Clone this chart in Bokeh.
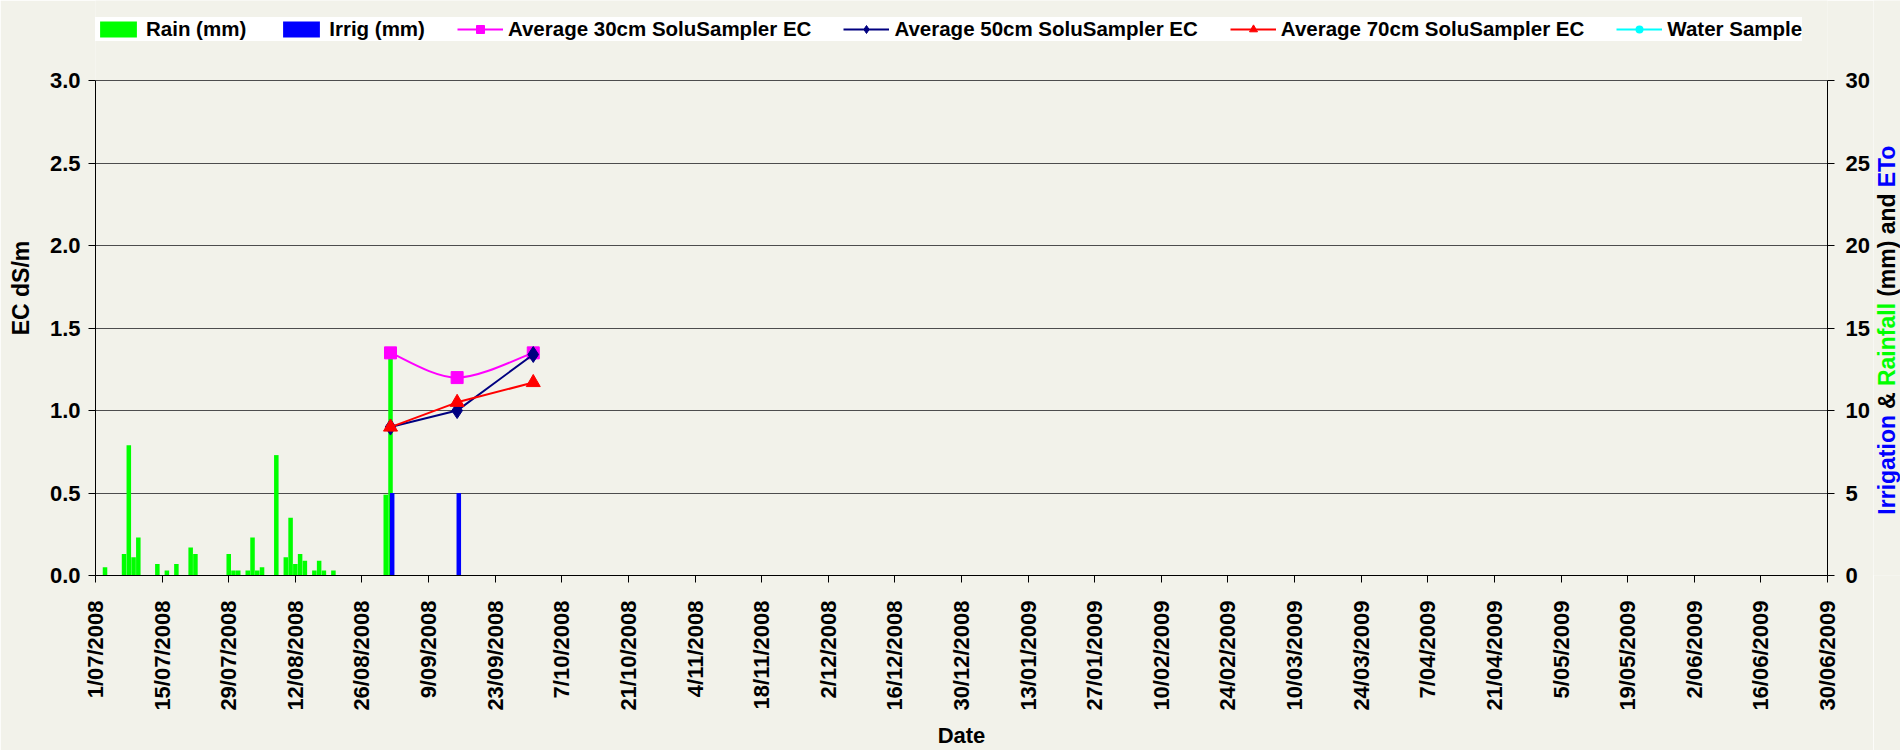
import math
import pandas as pd
from bokeh.plotting import figure
from bokeh.layouts import row
from bokeh.models import (ColumnDataSource, Range1d, LinearAxis, FixedTicker,
                          NumeralTickFormatter, Legend, LegendItem, CDSView, IndexFilter)
from bokeh.core.properties import value
from bokeh.transform import dodge
from bokeh.embed import file_html
from bokeh.resources import INLINE

# ---------------- data ----------------
start_date = "2008-07-01"
end_date = "2009-06-30"

rain_dates = ["2008-07-03", "2008-07-07", "2008-07-08", "2008-07-09", "2008-07-10",
              "2008-07-14", "2008-07-16", "2008-07-18", "2008-07-21", "2008-07-22",
              "2008-07-29", "2008-07-30", "2008-07-31", "2008-08-02", "2008-08-03",
              "2008-08-04", "2008-08-05", "2008-08-08", "2008-08-10", "2008-08-11",
              "2008-08-12", "2008-08-13", "2008-08-14", "2008-08-16", "2008-08-17",
              "2008-08-18", "2008-08-20", "2008-08-31", "2008-09-01"]
rain_mm = [0.5, 1.3, 7.9, 1.1, 2.3,
           0.7, 0.3, 0.7, 1.7, 1.3,
           1.3, 0.3, 0.3, 0.3, 2.3,
           0.3, 0.5, 7.3, 1.1, 3.5,
           0.7, 1.3, 0.9, 0.3, 0.9,
           0.3, 0.3, 4.9, 13.8]

irrig_dates = ["2008-09-01", "2008-09-15"]
irrig_mm = [5.0, 5.0]

ec_dates = ["2008-09-01", "2008-09-15", "2008-10-01"]
ec_30cm = [1.35, 1.20, 1.35]
ec_50cm = [0.90, 1.00, 1.34]
ec_70cm = [0.90, 1.05, 1.17]

water_dates = []
water_ec = []

tick_dates = pd.date_range(start_date, end_date, freq="14D")
tick_labels = [f"{d.day}/{d.month:02d}/{d.year}" for d in tick_dates]

ec_ticks = [0.0, 0.5, 1.0, 1.5, 2.0, 2.5, 3.0]
mm_ticks = [0, 5, 10, 15, 20, 25, 30]
ec_max, mm_max = 3.0, 30.0

series_names = ["Rain (mm)", "Irrig (mm)", "Average 30cm SoluSampler EC",
                "Average 50cm SoluSampler EC", "Average 70cm SoluSampler EC",
                "Water Sample"]

right_title_parts = ["Irrigation", "&", "Rainfall", "(mm) and", "ETo"]
right_title_colors = ["#0000ff", "black", "#00ff00", "black", "#0000ff"]

# ---------------- layout / styling ----------------
BG = "#f2f2ea"
FONT = "Liberation Sans"
DAY_MS = 86400000.0

W_MAIN, W_SIDE, H = 1873, 27, 750
B_LEFT, B_RIGHT, B_BOTTOM = 95, 46, 173
FRAME_H = H - B_BOTTOM            # frame spans from canvas top to the x axis
PLOT_TOP = 80.5                   # pixel row of the 3.0 / 30 gridline
head = FRAME_H / (FRAME_H - PLOT_TOP)   # range stretch so 3.0 sits at PLOT_TOP

p = figure(width=W_MAIN, height=H, x_axis_type="datetime", output_backend="svg",
           toolbar_location=None,
           x_range=Range1d(pd.Timestamp(start_date), pd.Timestamp(end_date)),
           y_range=Range1d(0, ec_max * head),
           min_border_left=B_LEFT, min_border_right=B_RIGHT, min_border_top=0,
           min_border_bottom=B_BOTTOM)
p.extra_y_ranges = {"mm": Range1d(0, mm_max * head)}
p.background_fill_color = BG
p.border_fill_color = BG
p.outline_line_color = None

p.xgrid.grid_line_color = None
p.ygrid.grid_line_color = "#4d4d4d"
p.ygrid.grid_line_width = 1
p.ygrid.ticker = FixedTicker(ticks=ec_ticks)

rain_src = ColumnDataSource(dict(x=pd.to_datetime(rain_dates), y=rain_mm))
irrig_src = ColumnDataSource(dict(x=pd.to_datetime(irrig_dates), y=irrig_mm))
ec_x = pd.to_datetime(ec_dates)
s30 = ColumnDataSource(dict(x=ec_x, y=ec_30cm))
s50 = ColumnDataSource(dict(x=ec_x, y=ec_50cm))
s70 = ColumnDataSource(dict(x=ec_x, y=ec_70cm))
swater = ColumnDataSource(dict(x=pd.to_datetime(water_dates), y=water_ec))

r_rain = p.vbar(x="x", top="y", width=0.95 * DAY_MS, source=rain_src,
                y_range_name="mm", fill_color="#00ff00", line_color=None)
r_irrig = p.vbar(x=dodge("x", 0.35 * DAY_MS, range=p.x_range), top="y",
                 width=0.95 * DAY_MS, source=irrig_src,
                 y_range_name="mm", fill_color="#0000ff", line_color=None)

# smoothed 30cm line (Excel-style smoothing: Bezier control points from the data)
xs = [t.value / 1e6 for t in ec_x]
ys = list(ec_30cm)
n = len(xs)
bz = dict(x0=[], y0=[], x1=[], y1=[], cx0=[], cy0=[], cx1=[], cy1=[])
for i in range(n - 1):
    im1 = max(i - 1, 0)
    ip2 = min(i + 2, n - 1)
    bz["x0"].append(xs[i]); bz["y0"].append(ys[i])
    bz["x1"].append(xs[i + 1]); bz["y1"].append(ys[i + 1])
    bz["cx0"].append(xs[i] + (xs[i + 1] - xs[im1]) / 6.0)
    bz["cy0"].append(ys[i] + (ys[i + 1] - ys[im1]) / 6.0)
    bz["cx1"].append(xs[i + 1] - (xs[ip2] - xs[i]) / 6.0)
    bz["cy1"].append(ys[i + 1] - (ys[ip2] - ys[i]) / 6.0)
p.bezier(x0="x0", y0="y0", x1="x1", y1="y1", cx0="cx0", cy0="cy0",
         cx1="cx1", cy1="cy1", source=ColumnDataSource(bz),
         line_color="#ff00ff", line_width=2)
# one-point views: a line through a single point draws nothing in the plot,
# but gives the legend a line sample
one_pt = CDSView(filter=IndexFilter([0]))
l30 = p.line("x", "y", source=s30, view=one_pt, line_color="#ff00ff", line_width=2)
m30 = p.scatter("x", "y", source=s30, marker="square", size=12,
                fill_color="#ff00ff", line_color="#ff00ff")

l50 = p.line("x", "y", source=s50, line_color="#000080", line_width=2)
m50 = p.scatter("x", "y", source=s50, marker="diamond", size=16,
                fill_color="#000080", line_color="#000080")

l70 = p.line("x", "y", source=s70, line_color="#ff0000", line_width=2)
m70 = p.scatter("x", "y", source=s70, marker="triangle", size=14,
                fill_color="#ff0000", line_color="#ff0000")

# Water Sample has no data points: draw its (empty) series, and give the legend
# a sample through a zero-size proxy
p.line("x", "y", source=swater, line_color="#00ffff", line_width=2)
p.scatter("x", "y", source=swater, marker="circle", size=9,
          fill_color="#00ffff", line_color="#00ffff")
lw = p.line("x", "y", source=s30, view=CDSView(filter=IndexFilter([0])),
            line_color="#00ffff", line_width=2)
mw = p.scatter("x", "y", source=s30, view=CDSView(filter=IndexFilter([0])),
               marker="circle", size=0, fill_color="#00ffff", line_color="#00ffff",
               line_width=0)


def style_axis(ax):
    ax.axis_line_color = "black"
    ax.axis_line_width = 1
    ax.major_tick_line_color = "black"
    ax.major_tick_out = 7
    ax.major_tick_in = 0
    ax.minor_tick_line_color = None
    ax.major_label_text_font = FONT
    ax.major_label_text_font_style = "bold"
    ax.major_label_text_font_size = "22px"
    ax.major_label_text_color = "black"
    ax.axis_label_text_font = FONT
    ax.axis_label_text_font_style = "bold"
    ax.axis_label_text_color = "black"


xax = p.xaxis[0]
style_axis(xax)
xax.ticker = FixedTicker(ticks=[t.value / 1e6 for t in tick_dates])
xax.major_label_overrides = {t.value / 1e6: lab for t, lab in zip(tick_dates, tick_labels)}
xax.major_label_orientation = math.pi / 2
xax.major_label_standoff = 18
xax.axis_label = "Date"
xax.axis_label_text_font_size = "22px"
xax.axis_label_standoff = 9

yax = p.yaxis[0]
style_axis(yax)
yax.ticker = FixedTicker(ticks=ec_ticks)
yax.bounds = (0, ec_max)
yax.formatter = NumeralTickFormatter(format="0.0")
yax.major_label_standoff = 8
yax.axis_label = "EC dS/m"
yax.axis_label_text_font_size = "23px"
yax.axis_label_standoff = 13

rax = LinearAxis(y_range_name="mm", ticker=FixedTicker(ticks=mm_ticks),
                 bounds=(0, mm_max))
style_axis(rax)
rax.major_label_standoff = 11
p.add_layout(rax, "right")

# legend (inside the stretched frame, above the 3.0 line)
items = [LegendItem(label=series_names[0], renderers=[r_rain]),
         LegendItem(label=series_names[1], renderers=[r_irrig]),
         LegendItem(label=series_names[2], renderers=[l30, m30]),
         LegendItem(label=series_names[3], renderers=[l50, m50]),
         LegendItem(label=series_names[4], renderers=[l70, m70]),
         LegendItem(label=series_names[5], renderers=[lw, mw])]
legend = Legend(items=items, orientation="horizontal", location=(0, FRAME_H - 43),
                background_fill_color="white", background_fill_alpha=1.0,
                border_line_color=None, padding=8, spacing=32, margin=0,
                label_standoff=5, glyph_width=46, glyph_height=20,
                label_text_font=FONT, label_text_font_style="bold",
                label_text_font_size="20.5px", label_text_color="black")
p.add_layout(legend, "center")

# ---------------- multi-coloured right axis title (narrow side strip) ----------------
ARIAL_BOLD = {' ': 278, '&': 722, '(': 333, ')': 333, 'I': 278, 'r': 389, 'i': 278,
              'g': 611, 'a': 556, 't': 333, 'o': 611, 'n': 611, 'R': 722, 'f': 333,
              'l': 278, 'm': 889, 'd': 611, 'E': 667, 'T': 611}
RT_SIZE = 23


def tw(s):
    return sum(ARIAL_BOLD.get(c, 556) for c in s) / 1000.0 * RT_SIZE


space_w = tw(" ")
total = sum(tw(s) for s in right_title_parts) + space_w * (len(right_title_parts) - 1)
center_y = H - 330
ypos = []
cur = center_y - total / 2.0
for s in right_title_parts:
    ypos.append(cur)
    cur += tw(s) + space_w

side = figure(width=W_SIDE, height=H, output_backend="svg", toolbar_location=None,
              x_range=Range1d(0, W_SIDE), y_range=Range1d(B_BOTTOM, H),
              min_border_left=0, min_border_right=0, min_border_top=0,
              min_border_bottom=B_BOTTOM)
side.axis.visible = False
side.grid.grid_line_color = None
side.outline_line_color = None
side.background_fill_color = BG
side.border_fill_color = BG
side.text(x=[13.5] * len(right_title_parts), y=ypos, text=right_title_parts,
          text_color=right_title_colors, angle=math.pi / 2,
          text_align="left", text_baseline="middle",
          text_font=value(FONT), text_font_style="bold",
          text_font_size=value(f"{RT_SIZE}px"))

layout = row(p, side, spacing=0)
open("out.html", "w").write(file_html(layout, INLINE))
